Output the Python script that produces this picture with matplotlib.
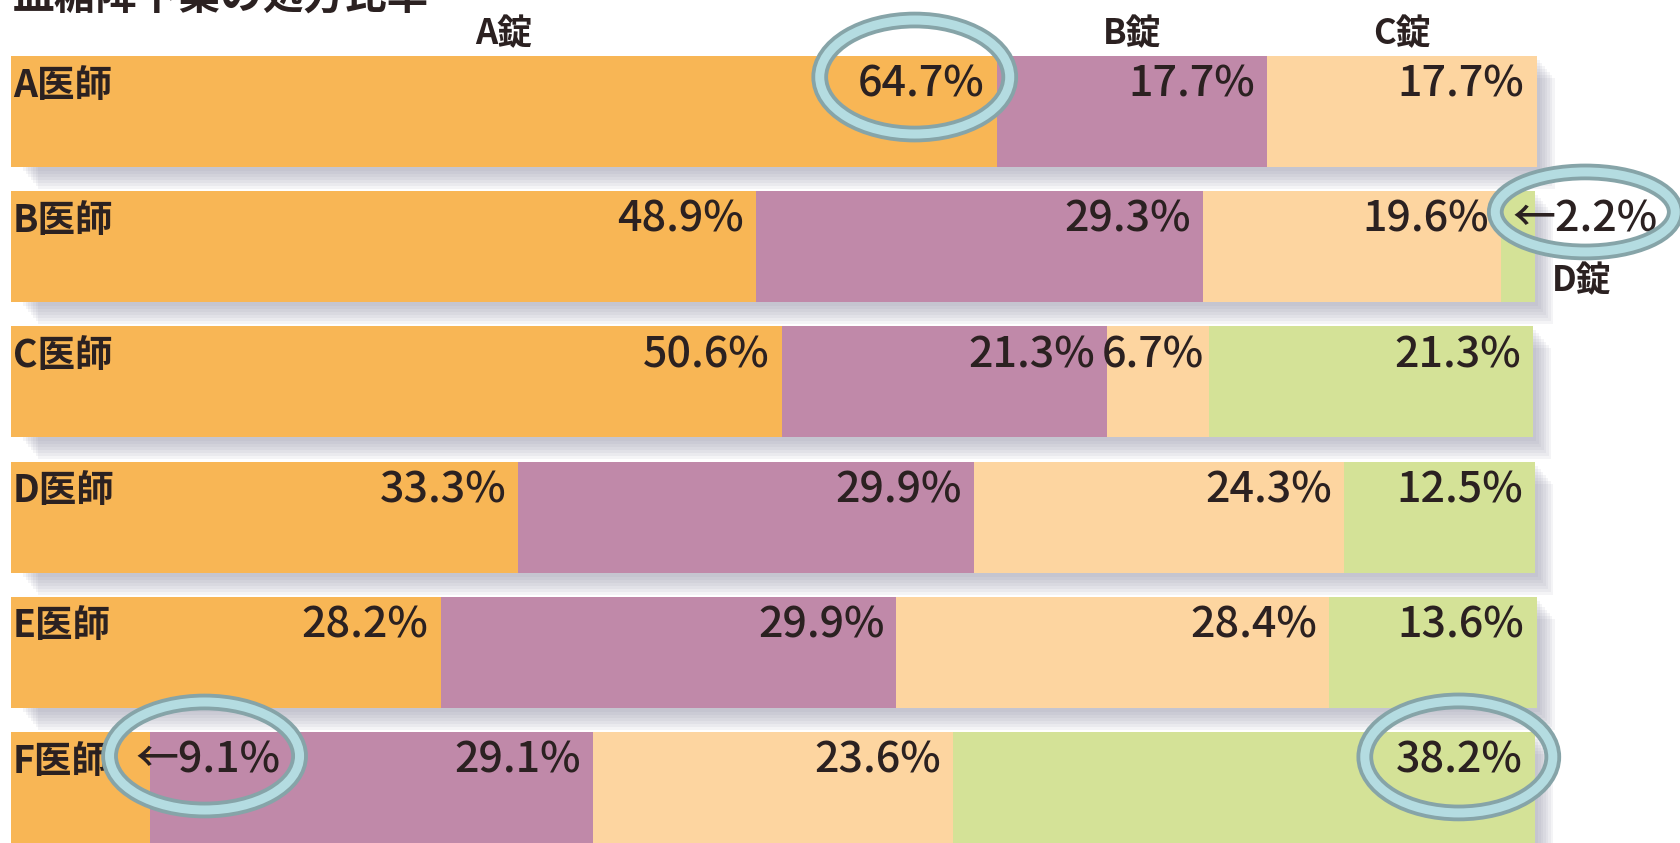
import matplotlib

matplotlib.use("Agg")
import matplotlib.pyplot as plt
from matplotlib.patches import Ellipse, Rectangle

plt.rcParams["font.family"] = ["Noto Sans CJK JP", "DejaVu Sans"]

title = "血糖降下薬の処方比率"
doctors = ["A医師", "B医師", "C医師", "D医師", "E医師", "F医師"]
drugs = ["A錠", "B錠", "C錠", "D錠"]
a_tab = [64.7, 48.9, 50.6, 33.3, 28.2, 9.1]
b_tab = [17.7, 29.3, 21.3, 29.9, 29.9, 29.1]
c_tab = [17.7, 19.6, 6.7, 24.3, 28.4, 23.6]
d_tab = [0.0, 2.2, 21.3, 12.5, 13.6, 38.2]
colors = ["#F8B655", "#C089A9", "#FDD5A0", "#D4E297"]
text_color = "#2B2121"

# pixel geometry of the target (full size 1681x843)
W, H = 1681, 843
px_x = 15.24          # pixels per percent
px_y = 135.2          # pixels per row
x0_px = 11
y0_px = 111.5         # centre of first row
bar_h = 111 / px_y

fig = plt.figure(figsize=(W / 100, H / 100), dpi=100)
ax = fig.add_axes([0, 0, 1, 1])
ax.set_xlim(-x0_px / px_x, (W - x0_px) / px_x)
ax.set_ylim((H - y0_px) / px_y, -y0_px / px_y)
ax.axis("off")

series = [a_tab, b_tab, c_tab, d_tab]

# drop shadows
for i in range(len(doctors)):
    total = sum(s[i] for s in series)
    for k in range(7):
        dx = (3 + 2.5 * k) / px_x
        dy = (4 + 3 * k) / px_y
        ax.add_patch(Rectangle((0.6 + dx, i - bar_h / 2 + dy), total - 0.6, bar_h,
                               color="#8d8ea3", alpha=0.09, lw=0, zorder=1))

# stacked bars
left = [0.0] * len(doctors)
for s, c in zip(series, colors):
    ax.barh(range(len(doctors)), s, left=left, height=bar_h, color=c, lw=0, zorder=2)
    left = [l + v for l, v in zip(left, s)]

fs = 31
wt = "medium"
base = -0.11
for i, name in enumerate(doctors):
    ax.text(0.12, i + base, name, fontsize=27, fontweight="bold", color=text_color,
            va="baseline", ha="left", zorder=5)
    start = 0.0
    for j, s in enumerate(series):
        v = s[i]
        end = start + v
        if v > 0:
            lab = f"{v:.1f}%"
            if i == 1 and j == 3:
                ax.text(start + 0.7, i + base, "←" + lab, fontsize=fs, fontweight=wt,
                        color=text_color, va="baseline", ha="left", zorder=5)
                ax.text(start + 3.3, i + 0.33, drugs[3], fontsize=25, fontweight="bold",
                        color=text_color, va="baseline", ha="left", zorder=5)
            elif i == 5 and j == 0:
                ax.text(end - 0.9, i + base, "←" + lab, fontsize=fs, fontweight=wt,
                        color=text_color, va="baseline", ha="left", zorder=5)
            else:
                pad = 0.3 if v < 8 else 0.8
                ax.text(end - pad, i + base, lab, fontsize=fs, fontweight=wt,
                        color=text_color, va="baseline", ha="right", zorder=5)
        start = end

# column headers centred over the first row's segments
start = 0.0
for j in range(3):
    v = series[j][0]
    ax.text(start + v / 2, -0.5, drugs[j], fontsize=25, fontweight="bold",
            color=text_color, va="baseline", ha="center", zorder=5)
    start += v

# title, cut off by the top edge as in the source image
ax.text(0.12, -y0_px / px_y + 10 / px_y, title, fontsize=30, fontweight="bold",
        color=text_color, va="baseline", ha="left", zorder=5)

# highlight rings (centre x, row, width px, height px)
rings = [
    (a_tab[0] - 5.4, 0 - 0.255, 190, 114),
    (a_tab[1] + b_tab[1] + c_tab[1] + d_tab[1] + 3.3, 1 - 0.257, 180, 80),
    (a_tab[5] + 3.6, 5 - 0.233, 190, 108),
    (95.0, 5 - 0.226, 188, 112),
]
for cx, cy, wpx, hpx in rings:
    e1 = Ellipse((cx, cy), wpx / px_x, hpx / px_y, fill=False, ec="#86A4A8", lw=12, zorder=6)
    e2 = Ellipse((cx, cy), wpx / px_x, hpx / px_y, fill=False, ec="#B4DCE1", lw=6.5, zorder=7)
    ax.add_patch(e1)
    ax.add_patch(e2)

fig.savefig("out.png", dpi=100)
